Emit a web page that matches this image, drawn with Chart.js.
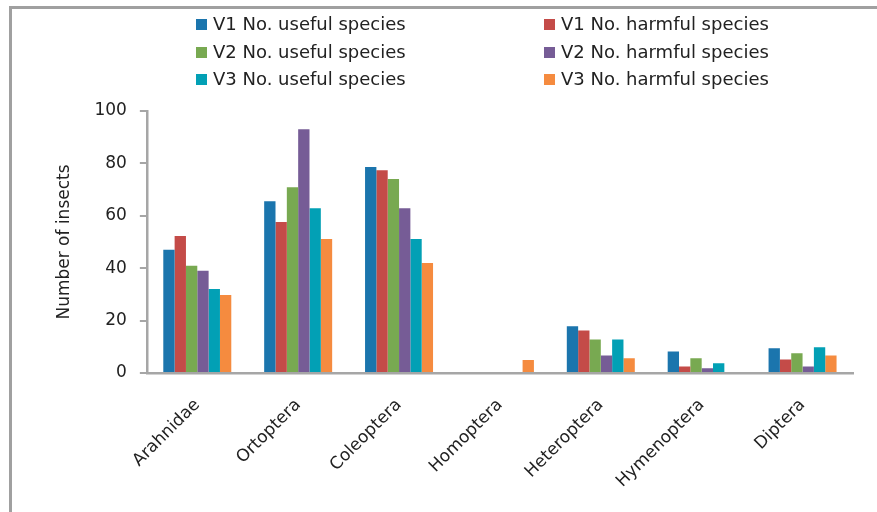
<!DOCTYPE html>
<html>
<head>
<meta charset="utf-8">
<script src="https://cdn.jsdelivr.net/npm/chart.js@4.4.0/dist/chart.umd.min.js"></script>
<style>
  html, body { margin: 0; padding: 0; background: #fff; overflow: hidden; }
  #wrap { position: relative; width: 877px; height: 512px; overflow: hidden; }
  #frameTop { position: absolute; left: 9px; top: 6px; width: 868px; height: 2.5px; background: #a0a0a0; }
  #frameLeft { position: absolute; left: 9px; top: 6px; width: 3px; height: 506px; background: #a0a0a0; }
  #chartBox { position: absolute; left: 0; top: 0; width: 877px; height: 512px; }
  #legend { position: absolute; left: 196px; top: 0; width: 600px;
            font-family: "DejaVu Sans", sans-serif; font-size: 18px; color: #222; }
  .item { position: absolute; white-space: nowrap; height: 22px; line-height: 22px; }
  .sw { display: inline-block; width: 11px; height: 11px; margin-right: 6px; vertical-align: 0px; }
</style>
</head>
<body>
<div id="wrap">
  <div id="frameTop"></div>
  <div id="frameLeft"></div>
  <div id="chartBox"><canvas id="c" width="877" height="512"></canvas></div>
  <div id="legend"></div>
</div>
<script>
const categories = ["Arahnidae", "Ortoptera", "Coleoptera", "Homoptera", "Heteroptera", "Hymenoptera", "Diptera"];
const seriesNames = ["V1 No. useful species", "V1 No. harmful species", "V2 No. useful species",
                     "V2 No. harmful species", "V3 No. useful species", "V3 No. harmful species"];
const v1Useful  = [47, 65.6, 78.6, 0, 17.8, 8.2, 9.4];
const v1Harmful = [52.3, 57.6, 77.4, 0, 16.2, 2.5, 5.2];
const v2Useful  = [40.9, 70.9, 74, 0, 12.8, 5.6, 7.5];
const v2Harmful = [39, 93, 62.9, 0, 6.7, 1.8, 2.5];
const v3Useful  = [32.1, 62.9, 51.1, 0, 12.8, 3.7, 9.8];
const v3Harmful = [29.8, 51.1, 42, 5, 5.6, 0, 6.7];
const yTicks = [0, 20, 40, 60, 80, 100];
const colors = ["#1b75ad", "#c44b48", "#78a951", "#765c96", "#02a0b5", "#f58b3f"];

const values = [v1Useful, v1Harmful, v2Useful, v2Harmful, v3Useful, v3Harmful];
const datasets = values.map((v, i) => ({
  label: seriesNames[i], data: v, backgroundColor: colors[i], borderWidth: 0
}));

// HTML legend in 2 columns x 3 rows
const legend = document.getElementById('legend');
datasets.forEach((d, i) => {
  const el = document.createElement('div');
  el.className = 'item';
  el.style.left = (i % 2 === 0 ? 0 : 348) + 'px';
  el.style.top = (13 + Math.floor(i / 2) * 27.7) + 'px';
  el.innerHTML = '<span class="sw" style="background:' + d.backgroundColor + '"></span>' + d.label;
  legend.appendChild(el);
});

const font = { family: '"DejaVu Sans", sans-serif', size: 17 };
new Chart(document.getElementById('c'), {
  type: 'bar',
  data: { labels: categories, datasets },
  options: {
    responsive: false,
    animation: false,
    devicePixelRatio: 1,
    layout: { padding: { top: 111, left: 36, right: 24, bottom: 0 } },
    plugins: { legend: { display: false }, tooltip: { enabled: false } },
    datasets: { bar: { categoryPercentage: 0.674, barPercentage: 1.0 } },
    scales: {
      x: {
        afterFit: (ax) => { ax.height = 139; },
        grid: { display: false, drawTicks: false },
        border: { display: true, color: '#a6a6a6', width: 2.5 },
        ticks: { font, color: '#222', minRotation: 45, maxRotation: 45, padding: 22 }
      },
      y: {
        min: 0, max: 100,
        afterBuildTicks: (ax) => { ax.ticks = yTicks.map(v => ({ value: v })); },
        grid: { drawOnChartArea: false, drawTicks: true, tickLength: 7, color: '#a6a6a6', lineWidth: 2 },
        border: { display: true, color: '#a6a6a6', width: 2.5 },
        ticks: { font, color: '#222', padding: 13 },
        title: { display: true, text: 'Number of insects', font, color: '#222', padding: { top: 18, bottom: 7 } }
      }
    }
  }
});
</script>
</body>
</html>
